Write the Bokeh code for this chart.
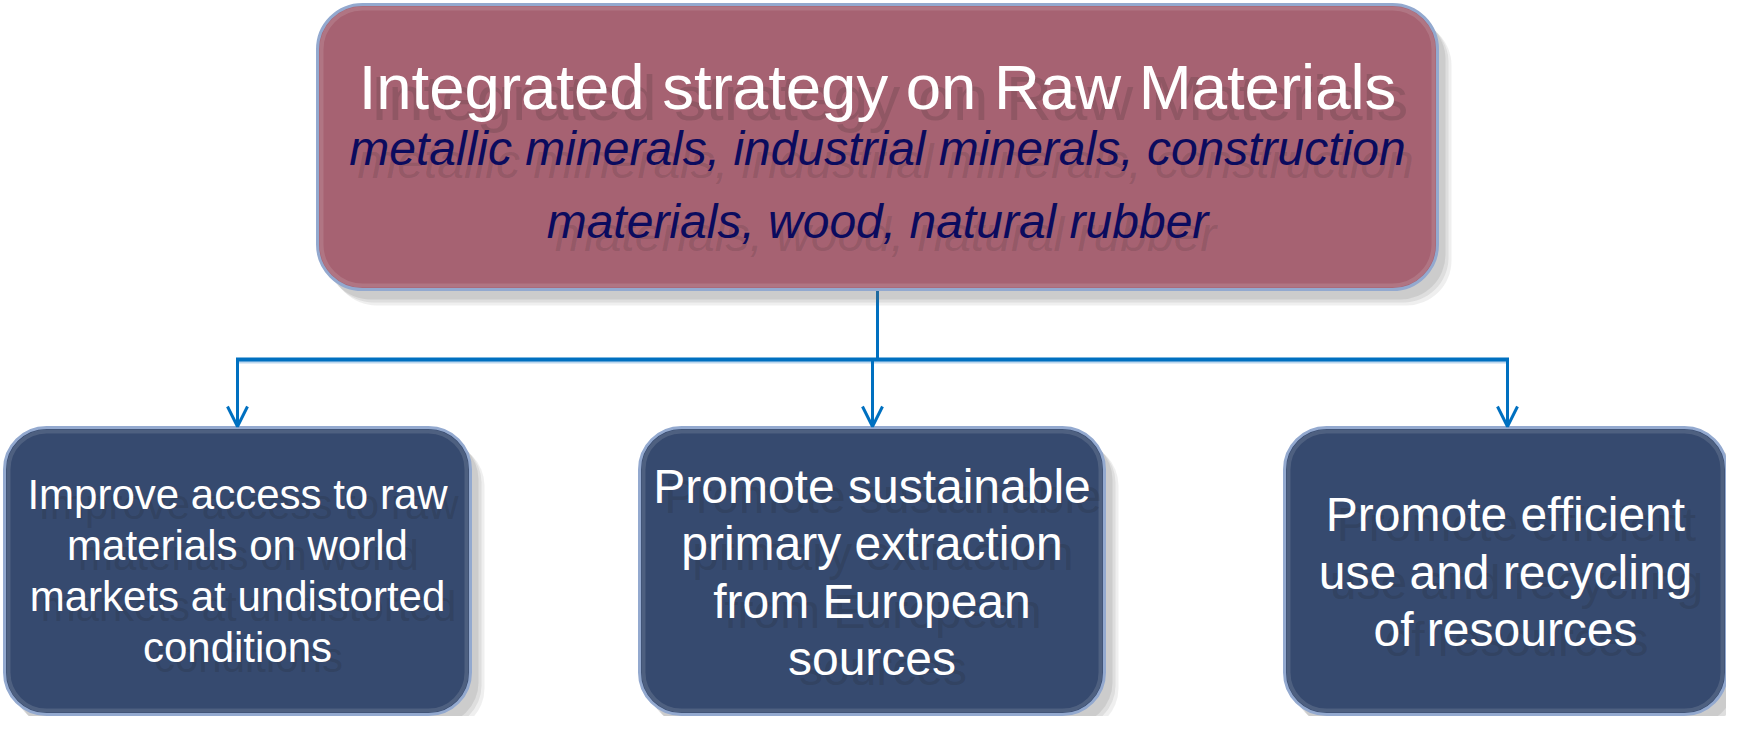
from bokeh.plotting import figure
from bokeh.models import Range1d, Arrow, OpenHead
from bokeh.core.properties import value
from bokeh.embed import file_html
from bokeh.resources import INLINE

# ---- content ----
title = "Integrated strategy on Raw Materials"
subtitle_lines = ["metallic minerals, industrial minerals, construction",
                  "materials, wood, natural rubber"]
box1_lines = ["Improve access to raw", "materials on world",
              "markets at undistorted", "conditions"]
box2_lines = ["Promote sustainable", "primary extraction",
              "from European", "sources"]
box3_lines = ["Promote efficient", "use and recycling", "of resources"]

# ---- layout (pixel coordinates of the reference picture) ----
W, H = 1726, 716
FONT = value("Liberation Sans")
TEXT_DY = -16          # correction for the renderer's baseline placement
TOP_BOX = dict(left=325, right=1445, top=12, bottom=297)
BOXES = [dict(left=12, right=478, top=435, bottom=722),
         dict(left=647, right=1112, top=435, bottom=722),
         dict(left=1292, right=1734, top=435, bottom=722)]
BOX_TEXT = [(box1_lines, 518, 51, "42px"),
            (box2_lines, 510, 57.3, "48px"),
            (box3_lines, 538, 57.5, "48px")]
TOP_FILL = "#A66272"
BOT_FILL = "#364A6F"
EDGE = "#93A9CF"
BLUE = "#0070C0"

p = figure(width=W, height=H, output_backend="svg", toolbar_location=None,
           x_range=Range1d(8, 8 + W), y_range=Range1d(8 + H, 8),
           x_axis_type=None, y_axis_type=None, min_border=0,
           outline_line_color=None, background_fill_color="white",
           border_fill_color="white")
p.grid.visible = False


def rbox(b, fill, radius):
    # soft drop shadow
    for dx, dy, a in [(14, 16, 0.10), (11, 13, 0.12), (8, 10, 0.14)]:
        p.quad(left=b["left"] + dx, right=b["right"] + dx,
               top=b["top"] + dy, bottom=b["bottom"] + dy,
               fill_color="#606060", fill_alpha=a, line_color=None,
               border_radius=radius)
    p.quad(left=b["left"], right=b["right"], top=b["top"], bottom=b["bottom"],
           fill_color=fill, line_color=EDGE, line_width=3, border_radius=radius)
    # inner highlight
    p.quad(left=b["left"] + 4, right=b["right"] - 4, top=b["top"] + 4,
           bottom=b["bottom"] - 4, fill_color=None, line_color="white",
           line_alpha=0.12, line_width=4, border_radius=radius - 4)


def shadow_text(xs, ys, texts, size, color, style="normal", dx=11, dy=11,
                sh_alpha=0.22, corr=TEXT_DY):
    ys = [y + corr for y in ys]
    p.text(x=[x + dx for x in xs], y=[y + dy for y in ys], text=texts,
           text_font=FONT, text_font_size=size, text_font_style=style,
           text_color="#202020", text_alpha=sh_alpha, text_align="center",
           text_baseline="alphabetic")
    p.text(x=xs, y=ys, text=texts, text_font=FONT, text_font_size=size,
           text_font_style=style, text_color=color, text_align="center",
           text_baseline="alphabetic")


# ---- connectors ----
top_cx = (TOP_BOX["left"] + TOP_BOX["right"]) / 2
bus_y = 367
child_x = [245, 880, 1515]
p.line(x=[top_cx, top_cx], y=[TOP_BOX["bottom"], bus_y], line_color=BLUE,
       line_width=3)
p.line(x=[child_x[0], child_x[-1]], y=[bus_y + 2.5, bus_y + 2.5],
       line_color="#BDD7EE", line_width=3)
p.line(x=[child_x[0] - 1.5, child_x[-1] + 1.5], y=[bus_y, bus_y],
       line_color=BLUE, line_width=4)
for cx in child_x:
    p.add_layout(Arrow(end=OpenHead(size=20, line_color=BLUE, line_width=3),
                       x_start=cx, y_start=bus_y, x_end=cx, y_end=434,
                       line_color=BLUE, line_width=3))

# ---- boxes ----
rbox(TOP_BOX, TOP_FILL, 45)
for b in BOXES:
    rbox(b, BOT_FILL, 42)

# ---- top texts ----
shadow_text([top_cx], [112], [title], "63.5px", "white", dx=12, dy=11,
            sh_alpha=0.16, corr=-18)
shadow_text([top_cx, top_cx], [172, 245], subtitle_lines, "48px", "#0B0B5E",
            style="italic", dx=8, dy=13, sh_alpha=0.14)

# ---- bottom texts ----
for b, (lines, y0, step, size) in zip(BOXES, BOX_TEXT):
    cx = (b["left"] + b["right"]) / 2
    ys = [y0 + i * step for i in range(len(lines))]
    shadow_text([cx] * len(lines), ys, lines, size, "white", dx=11, dy=10,
                sh_alpha=0.18)

open("out.html", "w").write(file_html(p, INLINE))
